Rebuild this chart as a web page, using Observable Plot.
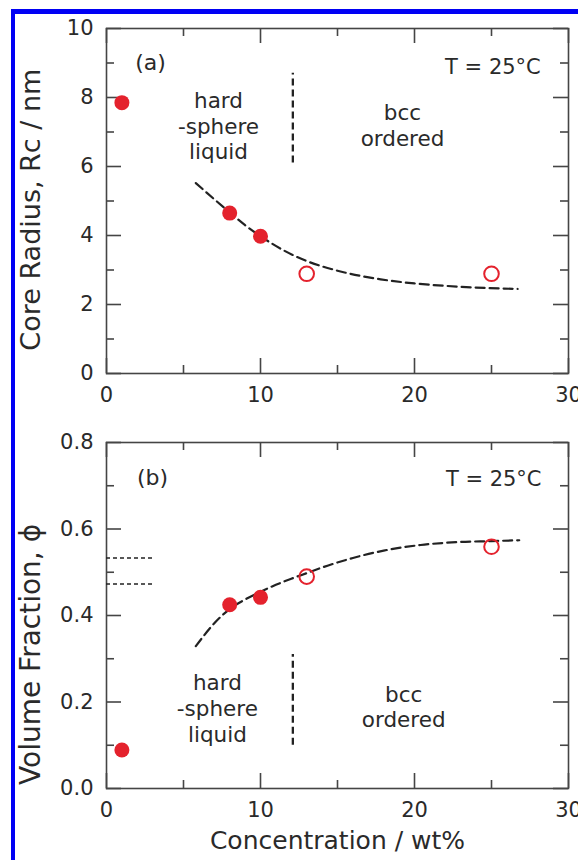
<!DOCTYPE html>
<html>
<head>
<meta charset="utf-8">
<script src="https://cdn.jsdelivr.net/npm/d3@7"></script>
<script src="https://cdn.jsdelivr.net/npm/@observablehq/plot@0.6"></script>
<style>
  html, body { margin: 0; padding: 0; background: #fff; overflow: hidden; }
  #page { position: relative; width: 578px; height: 860px; overflow: hidden; background: #fff; }
  #edge { position: absolute; left: 11px; top: 9px; right: -20px; bottom: -20px;
          border-left: 4.7px solid #0000f4; border-top: 5px solid #0000f4; }
  #panelA { position: absolute; left: 0; top: 0; }
  #panelB { position: absolute; left: 0; top: 415px; }
  #panelA svg, #panelB svg { display: block; }
</style>
</head>
<body>
<div id="page">
  <div id="edge"></div>
  <div id="panelA"></div>
  <div id="panelB"></div>
</div>
<script>
// Sample concentrations (wt%): disordered liquid vs. bcc-ordered samples
const concLiquid = [1, 8, 10];
const concBcc = [13, 25];

// (a) core radius Rc (nm)
const radiusLiquid = [7.85, 4.65, 3.98];
const radiusBcc = [2.89, 2.89];

// (b) volume fraction phi
const phiLiquid = [0.089, 0.425, 0.442];
const phiBcc = [0.490, 0.559];

// Dashed guide curves
const guideConcA = [5.8, 7, 8, 9, 10, 11.5, 13, 15, 17.8, 20, 22, 24, 26.7];
const guideRadius = [5.52, 5.05, 4.67, 4.3, 3.98, 3.57, 3.26, 2.98, 2.73, 2.61, 2.54, 2.49, 2.45];
const guideConcB = [5.8, 7, 8, 9, 10, 11, 12, 13, 14, 16, 18, 20.4, 23, 25, 26.8];
const guidePhi = [0.329, 0.382, 0.415, 0.437, 0.455, 0.471, 0.485, 0.498, 0.511, 0.533, 0.55, 0.563, 0.57, 0.572, 0.574];

// Liquid / bcc boundary
const boundaryConc = [12.1];
const boundaryRadius = [6.1, 8.7];
const boundaryPhi = [0.1, 0.31];

// Hard-sphere freezing / melting fractions
const hsPhi = [0.533, 0.473];
const hsConc = [0, 3];

// Axis ticks
const concMajor = [0, 10, 20, 30];
const concMinor = [5, 15, 25];
const radiusMajor = [0, 2, 4, 6, 8, 10];
const radiusMinor = [1, 3, 5, 7, 9];
const phiMajor = [0, 0.2, 0.4, 0.6, 0.8];
const phiMinor = [0.1, 0.3, 0.5, 0.7];

const FONT = "DejaVu Sans";
const INK = "#2a2a2a";
const AXIS = "#454545";
const RED = "#e4222d";
const W = 578, ML = 106, MR = 10;
const innerW = W - ML - MR;
const MAJOR = 15, MINOR = 8;

// Inward ticks on all four sides of the frame
function frameTicks(yMajor, yMinor, innerH) {
  const s = {stroke: AXIS, strokeWidth: 1.6};
  const marks = [];
  for (const [vals, len] of [[yMajor, MAJOR], [yMinor, MINOR]]) {
    marks.push(Plot.tickY(vals, {y: d => d, insetRight: innerW - len, ...s}));
    marks.push(Plot.tickY(vals, {y: d => d, insetLeft: innerW - len, ...s}));
  }
  for (const [vals, len] of [[concMajor, MAJOR], [concMinor, MINOR]]) {
    marks.push(Plot.tickX(vals, {x: d => d, insetTop: innerH - len, ...s}));
    marks.push(Plot.tickX(vals, {x: d => d, insetBottom: innerH - len, ...s}));
  }
  return marks;
}

const textStyle = {fontFamily: FONT, fill: INK};

// Panel (a): core radius
{
  const H = 415, MT = 28, MB = 42;
  const innerH = H - MT - MB;
  const chart = Plot.plot({
    width: W, height: H,
    marginTop: MT, marginBottom: MB, marginLeft: ML, marginRight: MR,
    x: {domain: [0, 30]},
    y: {domain: [0, 10]},
    style: {fontFamily: FONT, fontSize: "21px", color: INK, background: "transparent"},
    marks: [
      Plot.frame({stroke: AXIS, strokeWidth: 1.6}),
      ...frameTicks(radiusMajor, radiusMinor, innerH),
      Plot.axisX({ticks: concMajor, tickSize: 0, tickPadding: 14, label: null, fontSize: 21}),
      Plot.axisY({ticks: radiusMajor, tickSize: 0, tickPadding: 13, label: null, fontSize: 21}),
      Plot.ruleX(boundaryConc, {x: d => d, y1: boundaryRadius[0], y2: boundaryRadius[1],
        stroke: "#222", strokeWidth: 2.3, strokeDasharray: "7,4"}),
      Plot.line(guideConcA.map((c, i) => [c, guideRadius[i]]), {
        x: d => d[0], y: d => d[1], curve: "monotone-x",
        stroke: "#222", strokeWidth: 2.2, strokeDasharray: "9,5"}),
      Plot.dot(concLiquid.map((c, i) => [c, radiusLiquid[i]]), {
        x: d => d[0], y: d => d[1], r: 7.5, fill: RED, stroke: "none"}),
      Plot.dot(concBcc.map((c, i) => [c, radiusBcc[i]]), {
        x: d => d[0], y: d => d[1], r: 7.3, fill: "none", stroke: RED, strokeWidth: 2}),
      Plot.text(["(a)"], {x: 2.86, y: 9.0, fontSize: 22, ...textStyle}),
      Plot.text(["T = 25°C"], {x: 28.2, y: 8.87, textAnchor: "end", fontSize: 21, ...textStyle}),
      Plot.text(["hard\n-sphere\nliquid"], {x: 7.27, y: 7.19, lineHeight: 1.2, fontSize: 21.5, ...textStyle}),
      Plot.text(["bcc\nordered"], {x: 19.22, y: 7.2, lineHeight: 1.2, fontSize: 21.5, ...textStyle}),
      Plot.text(["Core Radius, Rc / nm"], {frameAnchor: "left", y: 4.75, rotate: -90, dx: -75,
        textAnchor: "middle", fontSize: 27, ...textStyle})
    ]
  });
  document.getElementById("panelA").appendChild(chart);
}

// Panel (b): volume fraction
{
  const H = 445, MT = 27, MB = 72;
  const innerH = H - MT - MB;
  const chart = Plot.plot({
    width: W, height: H,
    marginTop: MT, marginBottom: MB, marginLeft: ML, marginRight: MR,
    x: {domain: [0, 30]},
    y: {domain: [0, 0.8]},
    style: {fontFamily: FONT, fontSize: "21px", color: INK, background: "transparent"},
    marks: [
      Plot.frame({stroke: AXIS, strokeWidth: 1.6}),
      ...frameTicks(phiMajor, phiMinor, innerH),
      Plot.axisX({ticks: concMajor, tickSize: 0, tickPadding: 14, label: null, fontSize: 21}),
      Plot.axisY({ticks: phiMajor, tickSize: 0, tickPadding: 13, label: null, fontSize: 21,
        tickFormat: d3.format(".1f")}),
      Plot.ruleY(hsPhi, {y: d => d, x1: hsConc[0], x2: hsConc[1],
        stroke: "#222", strokeWidth: 1.6, strokeDasharray: "4,3"}),
      Plot.ruleX(boundaryConc, {x: d => d, y1: boundaryPhi[0], y2: boundaryPhi[1],
        stroke: "#222", strokeWidth: 2.3, strokeDasharray: "7,4"}),
      Plot.line(guideConcB.map((c, i) => [c, guidePhi[i]]), {
        x: d => d[0], y: d => d[1], curve: "monotone-x",
        stroke: "#222", strokeWidth: 2.2, strokeDasharray: "9,5"}),
      Plot.dot(concLiquid.map((c, i) => [c, phiLiquid[i]]), {
        x: d => d[0], y: d => d[1], r: 7.5, fill: RED, stroke: "none"}),
      Plot.dot(concBcc.map((c, i) => [c, phiBcc[i]]), {
        x: d => d[0], y: d => d[1], r: 7.3, fill: "none", stroke: RED, strokeWidth: 2}),
      Plot.text(["(b)"], {x: 2.99, y: 0.718, fontSize: 22, ...textStyle}),
      Plot.text(["T = 25°C"], {x: 28.25, y: 0.716, textAnchor: "end", fontSize: 21, ...textStyle}),
      Plot.text(["hard\n-sphere\nliquid"], {x: 7.2, y: 0.187, lineHeight: 1.2, fontSize: 21.5, ...textStyle}),
      Plot.text(["bcc\nordered"], {x: 19.3, y: 0.19, lineHeight: 1.2, fontSize: 21.5, ...textStyle}),
      Plot.text(["Volume Fraction, ϕ"], {frameAnchor: "left", y: 0.31, rotate: -90, dx: -75,
        textAnchor: "middle", fontSize: 28, ...textStyle}),
      Plot.text(["Concentration / wt%"], {frameAnchor: "bottom", x: 15, dy: 60,
        fontSize: 25, ...textStyle})
    ]
  });
  document.getElementById("panelB").appendChild(chart);
}
</script>
</body>
</html>
